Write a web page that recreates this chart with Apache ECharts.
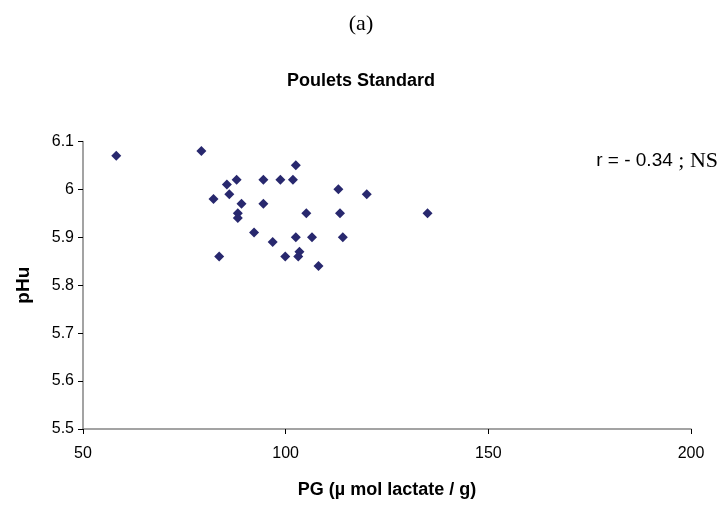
<!DOCTYPE html>
<html>
<head>
<meta charset="utf-8">
<script src="https://cdn.jsdelivr.net/npm/echarts@6/dist/echarts.min.js"></script>
<style>html,body{margin:0;padding:0;background:#fff}#c{width:722px;height:509px}</style>
</head>
<body>
<div id="c"></div>
<script>
var pgValues = [58.2, 79.2, 102.5, 85.5, 87.9, 94.5, 98.7, 101.8, 113.0, 120.0, 82.2, 86.1, 89.1, 94.5, 88.2, 88.2, 105.1, 113.4, 135.0, 92.2, 96.8, 102.5, 106.5, 114.1, 83.6, 99.9, 103.4, 103.1, 108.1];
var pHuValues = [6.07, 6.08, 6.05, 6.01, 6.02, 6.02, 6.02, 6.02, 6.00, 5.99, 5.98, 5.99, 5.97, 5.97, 5.95, 5.94, 5.95, 5.95, 5.95, 5.91, 5.89, 5.90, 5.90, 5.90, 5.86, 5.86, 5.87, 5.86, 5.84];
var xTicks = [50, 100, 150, 200];
var yTicks = [5.5, 5.6, 5.7, 5.8, 5.9, 6, 6.1];
var panelLabel = '(a)';
var chartTitle = 'Poulets Standard';
var xName = 'PG (\u00b5 mol lactate / g)';
var yName = 'pHu';

var pts = pgValues.map(function (x, i) { return [x, pHuValues[i]]; });
var chart = echarts.init(document.getElementById('c'), null, {renderer: 'canvas'});
var axisColor = '#858585';
chart.setOption({
  animation: false,
  backgroundColor: '#ffffff',
  title: [
    {text: panelLabel, left: 'center', top: 8, textStyle: {fontFamily: 'Liberation Serif', fontWeight: 'normal', fontSize: 22, color: '#000'}},
    {text: chartTitle, left: 'center', top: 67, textStyle: {fontFamily: 'Liberation Sans', fontWeight: 'bold', fontSize: 18, color: '#000'}}
  ],
  graphic: [{
    type: 'text', right: 4, top: 150,
    style: {
      text: '{a|r = - 0.34}{b| ; NS}',
      rich: {
        a: {fontFamily: 'Liberation Sans', fontSize: 19, fill: '#000'},
        b: {fontFamily: 'Liberation Serif', fontSize: 22, fill: '#000'}
      }
    }
  }],
  grid: {left: 83, right: 31, top: 141.4, bottom: 80},
  xAxis: {
    type: 'value', min: xTicks[0], max: xTicks[xTicks.length - 1], interval: 50,
    name: xName, nameLocation: 'middle', nameGap: 52,
    nameTextStyle: {fontFamily: 'Liberation Sans', fontWeight: 'bold', fontSize: 18, color: '#000'},
    axisLine: {lineStyle: {color: axisColor, width: 1.5}},
    axisTick: {show: true, inside: false, length: 5, lineStyle: {color: '#000'}},
    axisLabel: {fontFamily: 'Liberation Sans', fontSize: 16, color: '#000', margin: 17},
    splitLine: {show: false}
  },
  yAxis: {
    type: 'value', min: yTicks[0], max: yTicks[yTicks.length - 1], interval: 0.1,
    name: yName, nameLocation: 'middle', nameGap: 50, nameRotate: 90,
    nameTextStyle: {fontFamily: 'Liberation Sans', fontWeight: 'bold', fontSize: 19, color: '#000'},
    axisLine: {show: true, lineStyle: {color: axisColor, width: 1.5}},
    axisTick: {show: true, inside: false, length: 5, lineStyle: {color: '#000'}},
    axisLabel: {fontFamily: 'Liberation Sans', fontSize: 16, color: '#000', margin: 9,
      formatter: function (v) { return String(+(+v).toFixed(1)); }},
    splitLine: {show: false}
  },
  series: [{
    type: 'scatter', data: pts, symbol: 'diamond', symbolSize: 10,
    itemStyle: {color: '#28286e', opacity: 1}
  }]
});
</script>
</body>
</html>
